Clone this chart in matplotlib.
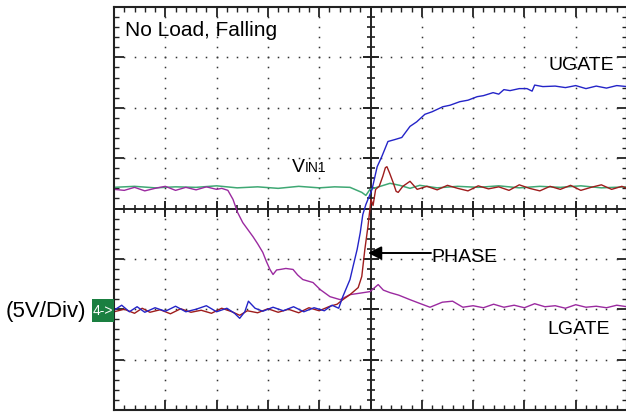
"""Scope capture: UGATE / PHASE / LGATE / VIN1 at no load, falling edge."""

import matplotlib

matplotlib.use("Agg")
import matplotlib.pyplot as plt
import numpy as np
from matplotlib.patches import Rectangle

plt.rcParams["font.family"] = ["Liberation Sans", "DejaVu Sans"]

# all traces in screen divisions: x = 0..10 (time), y = -4..4 (5V/div)
ugate_x = [0, 0.15, 0.3, 0.45, 0.6, 0.8, 1.0, 1.2, 1.4, 1.6, 1.8, 2.0, 2.2, 2.35,
           2.45, 2.55, 2.62, 2.75, 2.9, 3.1, 3.3, 3.5, 3.7, 3.9, 4.1, 4.25, 4.38,
           4.46, 4.60, 4.66, 4.74, 4.80, 4.85, 4.91, 5.03, 5.13, 5.22, 5.34, 5.48,
           5.61, 5.77, 5.9, 6.06, 6.2, 6.41, 6.55, 6.74, 6.9, 7.08, 7.2, 7.39, 7.5,
           7.6, 7.72, 7.9, 8.05, 8.15, 8.2, 8.36, 8.6, 8.8, 9.0, 9.2, 9.4, 9.6, 9.8, 10.0]
ugate_y = [-2.02, -1.92, -2.05, -1.95, -2.06, -1.97, -2.04, -1.94, -2.05, -2.0, -1.93,
           -2.05, -1.98, -2.08, -2.18, -2.05, -1.84, -1.98, -2.04, -1.96, -2.03, -1.95,
           -2.05, -1.97, -2.03, -1.92, -1.98,
           -1.75, -1.41, -1.15, -0.81, -0.48, -0.12, 0.08, 0.38, 0.83, 1.03, 1.33, 1.37,
           1.41, 1.63, 1.72, 1.87, 1.92, 2.02, 2.05, 2.12, 2.15, 2.22, 2.24, 2.30, 2.27,
           2.36, 2.34, 2.38, 2.38, 2.33, 2.45, 2.42, 2.43, 2.40, 2.44, 2.38, 2.43, 2.39,
           2.44, 2.42]

phase_x = [0, 0.2, 0.4, 0.55, 0.7, 0.9, 1.1, 1.3, 1.5, 1.7, 1.9, 2.1, 2.3, 2.45, 2.6,
           2.8, 3.0, 3.2, 3.4, 3.6, 3.8, 4.0, 4.21, 4.35, 4.46, 4.60, 4.76, 4.83, 4.89,
           4.95, 5.01, 5.05, 5.10, 5.17, 5.24, 5.29, 5.32, 5.37, 5.44, 5.50, 5.54, 5.63,
           5.77, 5.91, 6.10, 6.3, 6.5, 6.7, 6.9, 7.1, 7.3, 7.5, 7.7, 7.9, 8.1, 8.3, 8.5,
           8.7, 8.9, 9.1, 9.3, 9.5, 9.7, 9.9, 10.0]
phase_y = [-2.05, -2.0, -2.08, -1.98, -2.06, -2.01, -2.09, -1.99, -2.06, -2.02, -2.08,
           -1.98, -2.05, -2.12, -2.03, -2.07, -1.99, -2.06, -2.0, -2.07, -1.97, -2.03,
           -1.94, -1.9, -1.81, -1.71, -1.57, -1.35, -0.81, -0.36, 0.18, 0.06, 0.38, 0.44,
           0.64, 0.81, 0.83, 0.71, 0.52, 0.34, 0.32, 0.44, 0.54, 0.38, 0.44, 0.37, 0.46,
           0.40, 0.35, 0.45, 0.39, 0.43, 0.36, 0.47, 0.40, 0.35, 0.44, 0.38, 0.46, 0.36,
           0.42, 0.47, 0.38, 0.44, 0.40]

lgate_x = [0, 0.2, 0.4, 0.6, 0.8, 1.0, 1.2, 1.4, 1.6, 1.8, 2.0, 2.1, 2.22, 2.32, 2.41,
           2.51, 2.61, 2.71, 2.80, 2.90, 2.97, 3.04, 3.10, 3.17, 3.24, 3.35, 3.49, 3.58,
           3.68, 3.78, 3.88, 4.02, 4.21, 4.41, 4.60, 4.80, 4.99, 5.07, 5.15, 5.25, 5.38,
           5.55, 5.77, 5.95, 6.16, 6.4, 6.6, 6.8, 7.0, 7.2, 7.4, 7.6, 7.8, 8.0, 8.2, 8.4,
           8.6, 8.8, 9.0, 9.2, 9.4, 9.6, 9.8, 10.0]
lgate_y = [0.38, 0.36, 0.42, 0.35, 0.40, 0.44, 0.36, 0.42, 0.37, 0.43, 0.38, 0.40,
           0.36, 0.18, -0.08, -0.28, -0.42, -0.56, -0.70, -0.87, -1.05, -1.21, -1.31,
           -1.22, -1.21, -1.19, -1.21, -1.32, -1.41, -1.44, -1.47, -1.61, -1.75, -1.81,
           -1.71, -1.68, -1.65, -1.58, -1.51, -1.62, -1.67, -1.72, -1.81, -1.88, -1.96,
           -1.86, -1.84, -1.96, -1.93, -1.97, -1.90, -1.96, -1.92, -1.97, -1.89, -1.95,
           -1.93, -1.98, -1.91, -1.96, -1.94, -1.97, -1.92, -1.95]

vin_x = [0, 0.4, 0.8, 1.2, 1.6, 2.0, 2.4, 2.8, 3.2, 3.6, 4.0, 4.3, 4.6, 4.83, 4.91,
         4.99, 5.19, 5.38, 5.57, 5.77, 5.96, 6.3, 6.7, 7.1, 7.5, 7.9, 8.3, 8.7, 9.1,
         9.5, 10.0]
vin_y = [0.42, 0.44, 0.41, 0.43, 0.42, 0.45, 0.41, 0.43, 0.40, 0.44, 0.41, 0.43, 0.42,
         0.32, 0.26, 0.38, 0.44, 0.50, 0.46, 0.40, 0.46, 0.41, 0.44, 0.42, 0.45, 0.41,
         0.44, 0.42, 0.45, 0.41, 0.43]

W, H = 626, 412
fig = plt.figure(figsize=(W / 100, H / 100), dpi=100)
ax = fig.add_axes([114 / W, 2 / H, 513 / W, 403 / H])
ax.set_xlim(0, 10)
ax.set_ylim(-4, 4)

# dotted graticule
minor = np.arange(0, 10.01, 0.2)
minor_y = np.arange(-4, 4.01, 0.2)
for gx in [1, 2, 3, 4, 6, 7, 8, 9]:
    ax.plot([gx] * len(minor_y), minor_y, ls="none", marker="s", ms=1.1, color="#333333", mew=0)
for gy in [-3, -2, -1, 1, 2, 3]:
    ax.plot(minor, [gy] * len(minor), ls="none", marker="s", ms=1.1, color="#333333", mew=0)

# center cross with tick marks
ax.axhline(0, color="#222222", lw=1.4)
ax.axvline(5, color="#222222", lw=1.4)
ax.plot(minor, [0] * len(minor), ls="none", marker="|", ms=6, mew=1.2, color="#222222")
ax.plot([5] * len(minor_y), minor_y, ls="none", marker="_", ms=6, mew=1.2, color="#222222")
ax.plot(np.arange(0, 11), [0] * 11, ls="none", marker="|", ms=11, mew=1.4, color="#222222")
ax.plot([5] * 9, np.arange(-4, 5), ls="none", marker="_", ms=11, mew=1.4, color="#222222")

ax.plot(vin_x, vin_y, color="#3fa874", lw=1.1)
ax.plot(lgate_x, lgate_y, color="#9b2aa0", lw=1.0)
ax.plot(phase_x, phase_y, color="#9e1c1c", lw=1.0)
ax.plot(ugate_x, ugate_y, color="#2424c8", lw=1.0)

for s in ax.spines.values():
    s.set_linewidth(1.5)
    s.set_color("#222222")
ax.set_xticks(np.arange(0, 11))
ax.set_yticks(np.arange(-4, 5))
ax.set_xticks(minor, minor=True)
ax.set_yticks(minor_y, minor=True)
ax.tick_params(which="both", direction="in", top=True, right=True,
               labelbottom=False, labelleft=False, color="#222222")
ax.tick_params(which="major", length=7, width=1.3)
ax.tick_params(which="minor", length=3.5, width=1.0)

fig.text(125 / W, 1 - 36 / H, "No Load, Falling", fontsize=15, va="baseline")
fig.text(614 / W, 1 - 70 / H, "UGATE", fontsize=14, ha="right", va="baseline")
fig.text(292 / W, 1 - 172 / H, "V", fontsize=14, va="baseline")
fig.text(305 / W, 1 - 172 / H, "IN1", fontsize=10, va="baseline")
fig.text(431 / W, 1 - 262 / H, "PHASE", fontsize=14, va="baseline")
fig.text(610 / W, 1 - 334 / H, "LGATE", fontsize=14, ha="right", va="baseline")
fig.text(6 / W, 1 - 317 / H, "(5V/Div)", fontsize=16, va="baseline")

# channel ground marker
fig.patches.append(Rectangle((92 / W, 1 - 322 / H), 22 / W, 23 / H,
                             transform=fig.transFigure, fc="#1a7f40", ec="none"))
fig.text(103 / W, 1 - 311 / H, "4->", fontsize=10, color="white", ha="center", va="center")

ax.annotate("", xy=(368, H - 253), xytext=(431, H - 253),
            xycoords="figure pixels", textcoords="figure pixels",
            arrowprops=dict(arrowstyle="-|>", color="black", lw=1.4, mutation_scale=20,
                            shrinkA=0, shrinkB=0))

fig.savefig("out.png", dpi=100)
